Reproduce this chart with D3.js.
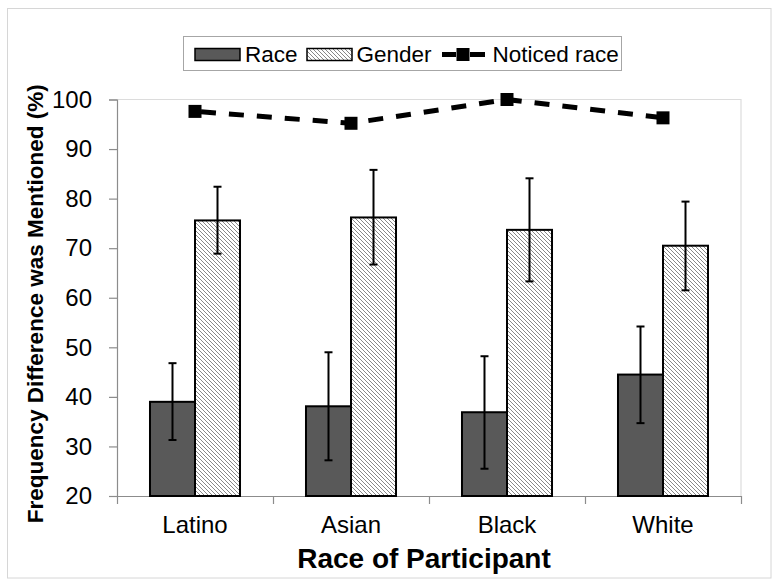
<!DOCTYPE html>
<html>
<head>
<meta charset="utf-8">
<script src="https://cdn.jsdelivr.net/npm/d3@7"></script>
<style>
  html, body { margin: 0; padding: 0; background: #fff; }
  svg { display: block; font-family: "Liberation Sans", Arial, sans-serif; }
</style>
</head>
<body>
<svg id="chart" width="779" height="585"></svg>
<script>
// ---- data ----
const categories = ["Latino", "Asian", "Black", "White"];
const raceValues = [39.0, 38.1, 36.9, 44.5];
const raceLow    = [31.3, 27.2, 25.5, 34.7];
const raceHigh   = [46.8, 49.0, 48.2, 54.2];
const genderValues = [75.6, 76.2, 73.7, 70.5];
const genderLow    = [68.9, 66.7, 63.3, 61.5];
const genderHigh   = [82.4, 85.8, 84.1, 79.4];
const noticedValues = [97.6, 95.2, 100.0, 96.3];
const yTicks = [20, 30, 40, 50, 60, 70, 80, 90, 100];
const seriesNames = ["Race", "Gender"];
const lineName = "Noticed race";
const xTitle = "Race of Participant";
const yTitle = "Frequency Difference was Mentioned (%)";

// ---- layout ----
const svg = d3.select("#chart");
const plot = { left: 117, right: 741, top: 99.5, bottom: 496 };

// outer border
svg.append("rect").attr("x", 7.5).attr("y", 8.5).attr("width", 763.5).attr("height", 569.5)
  .attr("fill", "#fff").attr("stroke", "#d6d6d6").attr("stroke-width", 1);

// hatch pattern
const defs = svg.append("defs");
const pat = defs.append("pattern").attr("id", "hatch").attr("patternUnits", "userSpaceOnUse")
  .attr("width", 4).attr("height", 4);
pat.append("rect").attr("width", 4).attr("height", 4).attr("fill", "#fff");
pat.append("path").attr("d", "M-1,-1 L5,5 M-1,3 L1,5 M3,-1 L5,1")
  .attr("stroke", "#7a7a7a").attr("stroke-width", 0.9);

const x0 = d3.scaleBand().domain(categories).range([plot.left, plot.right]).paddingInner(0).paddingOuter(0);
const x1 = d3.scaleBand().domain(seriesNames).range([0, x0.bandwidth()]).paddingInner(0).paddingOuter(0.733);
const y = d3.scaleLinear().domain([20, 100]).range([plot.bottom, plot.top]);

// plot area border (top/right light gray)
svg.append("path")
  .attr("d", `M${plot.left},${plot.top} H${plot.right} V${plot.bottom}`)
  .attr("fill", "none").attr("stroke", "#dcdcdc").attr("stroke-width", 1.2);

// y axis
const yAxis = d3.axisLeft(y).tickValues(yTicks).tickSize(8).tickPadding(17);
const gy = svg.append("g").attr("transform", `translate(${plot.left},0)`).call(yAxis);
gy.select(".domain").attr("stroke", "#8c8c8c").attr("stroke-width", 1.2);
gy.selectAll(".tick line").attr("stroke", "#8c8c8c").attr("stroke-width", 1.2);
gy.selectAll(".tick text").attr("font-size", 24).attr("fill", "#000")
  .attr("font-family", "'Liberation Sans', Arial, sans-serif");

// x axis (ticks at category boundaries)
const boundaries = categories.map(c => x0(c)).concat([plot.right]);
const xb = d3.scaleLinear().domain([plot.left, plot.right]).range([plot.left, plot.right]);
const xAxis = d3.axisBottom(xb).tickValues(boundaries).tickSize(8).tickFormat("");
const gx = svg.append("g").attr("transform", `translate(0,${plot.bottom})`).call(xAxis);
gx.select(".domain").attr("stroke", "#8c8c8c").attr("stroke-width", 1.2).attr("d", `M${plot.left},0.5H${plot.right}`);
gx.selectAll(".tick line").attr("stroke", "#8c8c8c").attr("stroke-width", 1.2);

// category labels
svg.append("g").selectAll("text").data(categories).join("text")
  .attr("x", d => x0(d) + x0.bandwidth() / 2)
  .attr("y", 533)
  .attr("text-anchor", "middle")
  .attr("font-size", 24)
  .attr("fill", "#000")
  .text(d => d);

// bars
const rows = categories.map((c, i) => ({
  cat: c,
  items: [
    { s: "Race", v: raceValues[i], lo: raceLow[i], hi: raceHigh[i] },
    { s: "Gender", v: genderValues[i], lo: genderLow[i], hi: genderHigh[i] }
  ]
}));
const groups = svg.append("g").selectAll("g").data(rows).join("g")
  .attr("transform", d => `translate(${x0(d.cat)},0)`);
groups.selectAll("rect").data(d => d.items).join("rect")
  .attr("x", d => x1(d.s))
  .attr("y", d => y(d.v))
  .attr("width", x1.bandwidth())
  .attr("height", d => y(20) - y(d.v))
  .attr("fill", d => d.s === "Race" ? "#595959" : "url(#hatch)")
  .attr("stroke", "#000")
  .attr("stroke-width", 2);

// error bars
const eb = groups.selectAll("g.err").data(d => d.items).join("g").attr("class", "err");
eb.append("line")
  .attr("x1", d => x1(d.s) + x1.bandwidth() / 2).attr("x2", d => x1(d.s) + x1.bandwidth() / 2)
  .attr("y1", d => y(d.lo)).attr("y2", d => y(d.hi))
  .attr("stroke", "#000").attr("stroke-width", 2);
["lo", "hi"].forEach(k => {
  eb.append("line")
    .attr("x1", d => x1(d.s) + x1.bandwidth() / 2 - 4).attr("x2", d => x1(d.s) + x1.bandwidth() / 2 + 4)
    .attr("y1", d => y(d[k])).attr("y2", d => y(d[k]))
    .attr("stroke", "#000").attr("stroke-width", 2);
});

// noticed race line
const cx = c => x0(c) + x0.bandwidth() / 2;
const lineData = categories.map((c, i) => ({ c, v: noticedValues[i] }));
svg.append("path").datum(lineData)
  .attr("d", d3.line().x(d => cx(d.c)).y(d => y(d.v)))
  .attr("fill", "none").attr("stroke", "#000").attr("stroke-width", 5)
  .attr("stroke-dasharray", "15,13").attr("stroke-dashoffset", -6);
svg.append("g").selectAll("rect").data(lineData).join("rect")
  .attr("x", d => cx(d.c) - 6.5).attr("y", d => y(d.v) - 6.5)
  .attr("width", 13).attr("height", 13).attr("fill", "#000");

// legend
const lg = svg.append("g");
lg.append("rect").attr("x", 183.5).attr("y", 36.5).attr("width", 438).attr("height", 34)
  .attr("fill", "#fff").attr("stroke", "#a6a6a6").attr("stroke-width", 1);
lg.append("rect").attr("x", 195).attr("y", 48.5).attr("width", 45).attr("height", 12)
  .attr("fill", "#595959").attr("stroke", "#000").attr("stroke-width", 1.5);
lg.append("text").attr("x", 245).attr("y", 61.5).attr("font-size", 22.5).text(seriesNames[0]);
lg.append("rect").attr("x", 307).attr("y", 48.5).attr("width", 45).attr("height", 12)
  .attr("fill", "url(#hatch)").attr("stroke", "#000").attr("stroke-width", 1.5);
lg.append("text").attr("x", 356.5).attr("y", 61.5).attr("font-size", 22.5).text(seriesNames[1]);
lg.append("line").attr("x1", 442).attr("x2", 456).attr("y1", 54.5).attr("y2", 54.5)
  .attr("stroke", "#000").attr("stroke-width", 5);
lg.append("line").attr("x1", 470).attr("x2", 485).attr("y1", 54.5).attr("y2", 54.5)
  .attr("stroke", "#000").attr("stroke-width", 5);
lg.append("rect").attr("x", 456.5).attr("y", 48).attr("width", 13).attr("height", 13).attr("fill", "#000");
lg.append("text").attr("x", 492.5).attr("y", 61.5).attr("font-size", 22.5).text(lineName);

// axis titles
svg.append("text").attr("x", (plot.left + plot.right) / 2 - 5).attr("y", 568)
  .attr("text-anchor", "middle").attr("font-size", 28).attr("font-weight", "bold").text(xTitle);
svg.append("text").attr("transform", `translate(43,${(plot.top + plot.bottom) / 2 + 6}) rotate(-90)`)
  .attr("text-anchor", "middle").attr("font-size", 22.5).attr("font-weight", "bold").text(yTitle);
</script>
</body>
</html>
